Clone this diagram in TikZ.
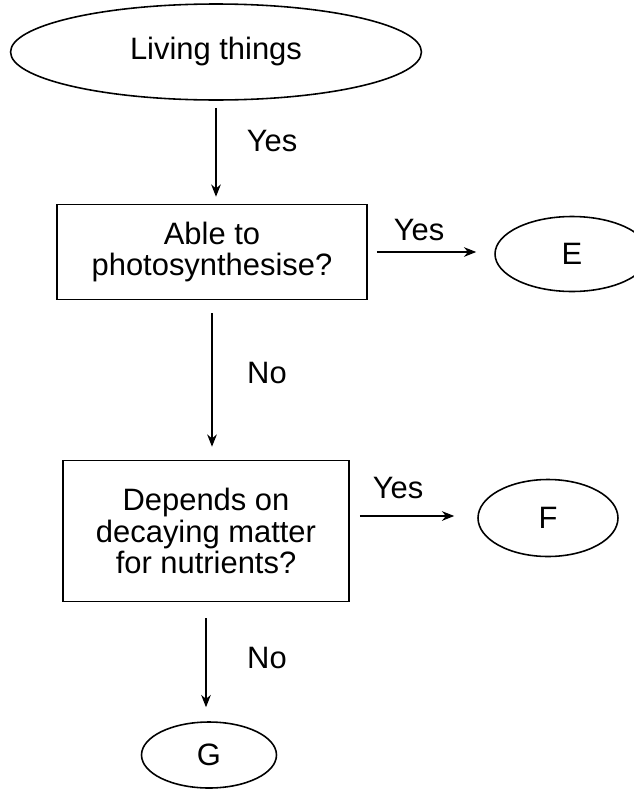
\documentclass[tikz,border=0pt]{standalone}
\usepackage{fontspec}
\setmainfont{Liberation Sans}
\usetikzlibrary{shapes.geometric,arrows.meta}

\begin{document}
\begin{tikzpicture}[
    x=0.02cm, y=-0.02cm,
    font=\fontsize{17.6}{17.9}\selectfont,
    box/.style={rectangle, draw=black, line width=0.9pt, align=center, inner sep=0pt},
    oval/.style={ellipse, draw=black, line width=0.9pt, inner sep=0pt},
    lbl/.style={inner sep=0pt},
    arrow/.style={-{Stealth[length=7pt,width=5.5pt]}, line width=0.9pt, black}
]
\useasboundingbox (0,0) rectangle (633,798);

% Start
\node[oval, minimum width=8.22cm, minimum height=1.92cm] (living) at (216,52) {Living things};

% First question
\node[box, minimum width=6.2cm, minimum height=1.9cm] (photo) at (212,252) {Able to\\photosynthesise?};

% Second question
\node[box, minimum width=5.72cm, minimum height=2.82cm] (decay) at (206,531) {Depends on\\decaying matter\\for nutrients?};

% Groups
\node[oval, minimum width=3.08cm, minimum height=1.5cm] (groupE) at (572,254) {E};
\node[oval, minimum width=2.8cm, minimum height=1.54cm] (groupF) at (548,518) {F};
\node[oval, minimum width=2.7cm, minimum height=1.32cm] (groupG) at (209,755) {G};

% Arrows
\draw[arrow, shorten <=0.14cm, shorten >=0.14cm] (living.south) -- (living.south |- photo.north);
\draw[arrow, shorten <=0.26cm, shorten >=0.26cm] (photo.south) -- (photo.south |- decay.north);
\draw[arrow, shorten <=0.32cm, shorten >=0.28cm] (decay.south) -- (decay.south |- groupG.north);
\draw[arrow, shorten <=0.18cm, shorten >=0.36cm] (photo.east) -- (photo.east -| groupE.west);
\draw[arrow, shorten <=0.2cm, shorten >=0.46cm] ([yshift=0.3cm]decay.east) -- ([yshift=0.3cm]decay.east -| groupF.west);

% Labels
\node[lbl] (yes1) at (272,141) {Yes};
\node[lbl] (yes2) at (419,230) {Yes};
\node[lbl] (no1) at (267,373) {No};
\node[lbl] (yes3) at (398,488) {Yes};
\node[lbl] (no2) at (267,658) {No};

\end{tikzpicture}
\end{document}
